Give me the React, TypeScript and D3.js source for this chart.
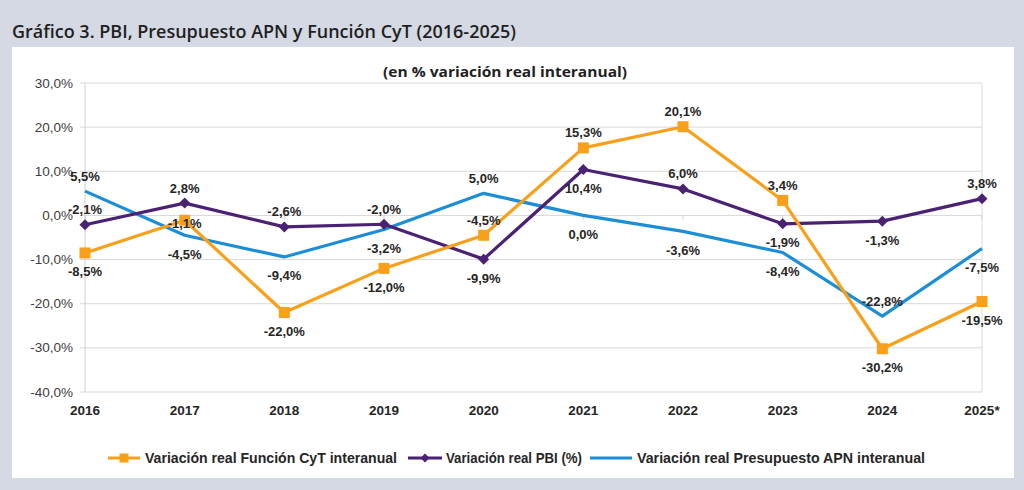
import { useEffect, useRef } from 'react';
import * as d3 from 'd3';

const years = ['2016', '2017', '2018', '2019', '2020', '2021', '2022', '2023', '2024', '2025*'];
const cytValues = [-8.5, -1.1, -22.0, -12.0, -4.5, 15.3, 20.1, 3.4, -30.2, -19.5];
const pbiValues = [-2.1, 2.8, -2.6, -2.0, -9.9, 10.4, 6.0, -1.9, -1.3, 3.8];
const apnValues = [5.5, -4.5, -9.4, -3.2, 5.0, 0.0, -3.6, -8.4, -22.8, -7.5];
const yTicks = [30, 20, 10, 0, -10, -20, -30, -40];

// where each data label sits relative to its point
const cytLabelPos = ['below', 'center', 'below', 'below', 'above', 'above', 'above', 'above', 'below', 'below'];
const pbiLabelPos = ['above', 'above', 'above', 'above', 'below', 'below', 'above', 'below', 'below', 'above'];
const apnLabelPos = ['above', 'below', 'below', 'below', 'above', 'below', 'below', 'below', 'above', 'below'];

const legendNames = [
    'Variación real Función CyT interanual',
    'Variación real PBI (%)',
    'Variación real Presupuesto APN interanual',
];

const ORANGE = '#F9A01B';
const PURPLE = '#4A2173';
const BLUE = '#1C8ED7';
const fmt = (v: number) => v.toFixed(1).replace('.', ',') + '%';

export default function App() {
    const svgRef = useRef<SVGSVGElement>(null);

    useEffect(() => {
        if (!svgRef.current) return;
        const svg = d3.select(svgRef.current);
        svg.selectAll('*').remove();

        const W = 1024;
        const H = 490;
        const plot = { left: 85, right: 982, top: 83, bottom: 392 };

        // background + white panel
        svg.append('rect').attr('width', W).attr('height', H).attr('fill', '#D5D9E3');
        svg.append('rect')
            .attr('x', 12).attr('y', 47)
            .attr('width', 1002).attr('height', 431)
            .attr('fill', '#fff');

        svg.append('text')
            .attr('x', 12).attr('y', 38)
            .attr('font-family', '"Open Sans", sans-serif')
            .attr('font-weight', 600)
            .attr('font-size', 18)
            .attr('fill', '#1f1f1f')
            .attr('textLength', 504)
            .attr('lengthAdjust', 'spacingAndGlyphs')
            .text('Gráfico 3. PBI, Presupuesto APN y Función CyT (2016-2025)');

        svg.append('text')
            .attr('x', 505).attr('y', 77)
            .attr('text-anchor', 'middle')
            .attr('font-family', '"Open Sans", sans-serif')
            .attr('font-weight', 700)
            .attr('font-size', 14.5)
            .attr('fill', '#1f1f1f')
            .attr('textLength', 244)
            .attr('lengthAdjust', 'spacingAndGlyphs')
            .text('(en % variación real interanual)');

        const x = d3.scalePoint<string>().domain(years).range([plot.left, plot.right]);
        const y = d3.scaleLinear().domain([-40, 30]).range([plot.bottom, plot.top]);

        // gridlines
        const grid = svg.append('g');
        grid.selectAll('line')
            .data(yTicks)
            .enter()
            .append('line')
            .attr('x1', plot.left - 5)
            .attr('x2', plot.right)
            .attr('y1', (d) => y(d))
            .attr('y2', (d) => y(d))
            .attr('stroke', '#D9D9D9')
            .attr('stroke-width', 1);
        svg.append('line')
            .attr('x1', plot.left).attr('x2', plot.left)
            .attr('y1', plot.top).attr('y2', plot.bottom)
            .attr('stroke', '#D0D0D0');
        svg.append('line')
            .attr('x1', plot.right).attr('x2', plot.right)
            .attr('y1', plot.top).attr('y2', plot.bottom)
            .attr('stroke', '#D9D9D9');
        // small x ticks on the zero line
        svg.append('g')
            .selectAll('line')
            .data(years)
            .enter()
            .append('line')
            .attr('x1', (d) => x(d) || 0)
            .attr('x2', (d) => x(d) || 0)
            .attr('y1', y(0))
            .attr('y2', y(0) + 4)
            .attr('stroke', '#D0D0D0');

        // y axis labels
        svg.append('g')
            .selectAll('text')
            .data(yTicks)
            .enter()
            .append('text')
            .attr('x', 73)
            .attr('y', (d) => y(d) + 4.5)
            .attr('text-anchor', 'end')
            .attr('font-family', '"Liberation Sans", Arial, sans-serif')
            .attr('font-size', 13.5)
            .attr('fill', '#404040')
            .text((d) => d.toFixed(1).replace('.', ',') + '%');

        // x axis labels
        svg.append('g')
            .selectAll('text')
            .data(years)
            .enter()
            .append('text')
            .attr('x', (d) => x(d) || 0)
            .attr('y', 415)
            .attr('text-anchor', 'middle')
            .attr('font-family', '"Liberation Sans", Arial, sans-serif')
            .attr('font-weight', 700)
            .attr('font-size', 13.5)
            .attr('fill', '#262626')
            .text((d) => d);

        const series = [
            { values: apnValues, color: BLUE, marker: 'none', pos: apnLabelPos },
            { values: pbiValues, color: PURPLE, marker: 'diamond', pos: pbiLabelPos },
            { values: cytValues, color: ORANGE, marker: 'square', pos: cytLabelPos },
        ];

        const line = d3
            .line<number>()
            .x((_, i) => x(years[i]) || 0)
            .y((d) => y(d));

        const drawMarker = (g: any, type: string, cx: number, cy: number, color: string) => {
            if (type === 'square') {
                g.append('rect')
                    .attr('x', cx - 5.5).attr('y', cy - 5.5)
                    .attr('width', 11).attr('height', 11)
                    .attr('fill', color);
            } else if (type === 'diamond') {
                g.append('path')
                    .attr('d', `M${cx},${cy - 5.5}L${cx + 5.5},${cy}L${cx},${cy + 5.5}L${cx - 5.5},${cy}Z`)
                    .attr('fill', color);
            }
        };

        series.forEach((s) => {
            svg.append('path')
                .datum(s.values)
                .attr('fill', 'none')
                .attr('stroke', s.color)
                .attr('stroke-width', 3.2)
                .attr('stroke-linejoin', 'round')
                .attr('d', line);
            const mg = svg.append('g');
            s.values.forEach((v, i) => drawMarker(mg, s.marker, x(years[i]) || 0, y(v), s.color));
        });

        // data labels
        const labels = svg.append('g')
            .attr('font-family', '"Liberation Sans", Arial, sans-serif')
            .attr('font-weight', 700)
            .attr('font-size', 13)
            .attr('fill', '#262626')
            .attr('text-anchor', 'middle');
        [series[2], series[1], series[0]].forEach((s) => {
            s.values.forEach((v, i) => {
                const py = y(v);
                const p = s.pos[i];
                const ty = p === 'above' ? py - 10.5 : p === 'below' ? py + 23.5 : py + 7.5;
                labels.append('text')
                    .attr('x', x(years[i]) || 0)
                    .attr('y', ty)
                    .text(fmt(v));
            });
        });

        // legend
        const legendItems = [
            { name: legendNames[0], color: ORANGE, marker: 'square', x1: 108, x2: 140, tx: 145, len: 252 },
            { name: legendNames[1], color: PURPLE, marker: 'diamond', x1: 408, x2: 442, tx: 446, len: 136 },
            { name: legendNames[2], color: BLUE, marker: 'none', x1: 590, x2: 632, tx: 637, len: 288 },
        ];
        const lg = svg.append('g');
        const ly = 458;
        legendItems.forEach((it) => {
            lg.append('line')
                .attr('x1', it.x1).attr('x2', it.x2)
                .attr('y1', ly).attr('y2', ly)
                .attr('stroke', it.color)
                .attr('stroke-width', 3);
            if (it.marker === 'square') {
                lg.append('rect')
                    .attr('x', (it.x1 + it.x2) / 2 - 4.5).attr('y', ly - 4.5)
                    .attr('width', 9).attr('height', 9)
                    .attr('fill', it.color);
            } else if (it.marker === 'diamond') {
                const cx = (it.x1 + it.x2) / 2;
                lg.append('path')
                    .attr('d', `M${cx},${ly - 4.5}L${cx + 4.5},${ly}L${cx},${ly + 4.5}L${cx - 4.5},${ly}Z`)
                    .attr('fill', it.color);
            }
            lg.append('text')
                .attr('x', it.tx)
                .attr('y', ly + 5)
                .attr('font-family', '"Liberation Sans", Arial, sans-serif')
                .attr('font-weight', 700)
                .attr('font-size', 14)
                .attr('fill', '#262626')
                .attr('textLength', it.len)
                .attr('lengthAdjust', 'spacingAndGlyphs')
                .text(it.name);
        });
    }, []);

    return (
        <svg
            ref={svgRef}
            width={1024}
            height={490}
            style={{ position: 'absolute', left: 0, top: 0, display: 'block' }}
        />
    );
}
